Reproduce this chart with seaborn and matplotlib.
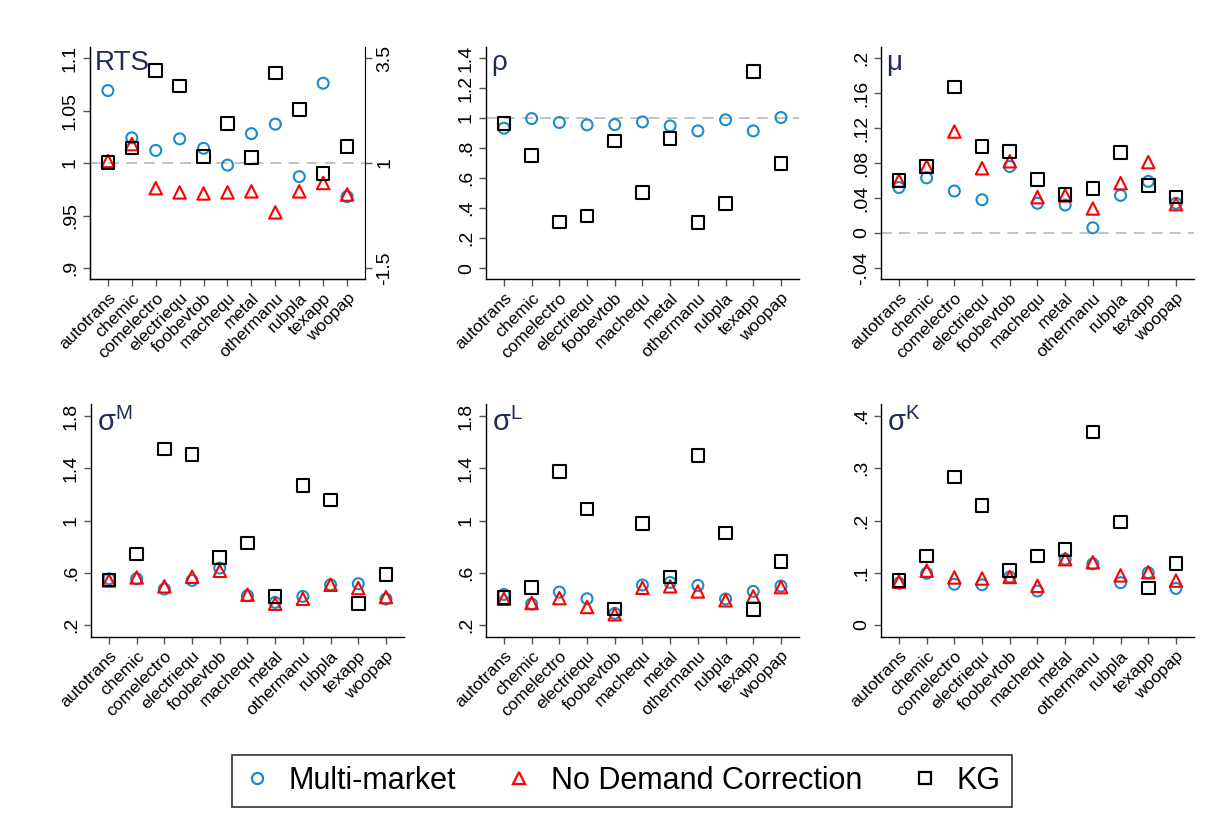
import numpy as np
import pandas as pd
import seaborn as sns
import matplotlib.pyplot as plt
from matplotlib.lines import Line2D

sns.set_style("ticks")
plt.rcParams['font.family'] = ['Liberation Sans', 'DejaVu Sans']
plt.rcParams['text.color'] = 'black'
plt.rcParams['xtick.labelcolor'] = 'black'
plt.rcParams['ytick.labelcolor'] = 'black'

industries = ['autotrans', 'chemic', 'comelectro', 'electriequ', 'foobevtob',
              'machequ', 'metal', 'othermanu', 'rubpla', 'texapp', 'woopap']

# RTS (KG on right axis scale)
rts_mm = [1.069, 1.024, 1.012, 1.023, 1.014, 0.998, 1.028, 1.037, 0.987, 1.076, 0.968]
rts_nd = [1.002, 1.018, 0.976, 0.972, 0.971, 0.972, 0.973, 0.953, 0.973, 0.981, 0.970]
rts_kg = [1.016, 1.358, 3.20, 2.83, 1.15, 1.94, 1.13, 3.14, 2.27, 0.75, 1.40]

# rho
rho_mm = [0.932, 0.996, 0.970, 0.954, 0.956, 0.974, 0.947, 0.914, 0.988, 0.914, 1.003]
rho_kg = [0.965, 0.749, 0.308, 0.348, 0.847, 0.504, 0.863, 0.305, 0.432, 1.309, 0.698]

# mu
mu_mm = [0.052, 0.063, 0.048, 0.038, 0.076, 0.034, 0.032, 0.006, 0.043, 0.059, 0.034]
mu_nd = [0.060, 0.076, 0.116, 0.074, 0.082, 0.041, 0.043, 0.028, 0.057, 0.081, 0.033]
mu_kg = [0.060, 0.076, 0.167, 0.099, 0.093, 0.061, 0.044, 0.051, 0.092, 0.054, 0.041]

# sigma M
sm_mm = [0.554, 0.554, 0.475, 0.541, 0.636, 0.424, 0.373, 0.419, 0.508, 0.516, 0.399]
sm_nd = [0.541, 0.564, 0.496, 0.569, 0.615, 0.432, 0.363, 0.401, 0.508, 0.483, 0.414]
sm_kg = [0.546, 0.745, 1.548, 1.504, 0.717, 0.827, 0.417, 1.268, 1.158, 0.366, 0.587]

# sigma L
sl_mm = [0.434, 0.361, 0.452, 0.401, 0.289, 0.506, 0.526, 0.503, 0.399, 0.457, 0.498]
sl_nd = [0.401, 0.368, 0.406, 0.338, 0.282, 0.485, 0.496, 0.457, 0.389, 0.419, 0.490]
sl_kg = [0.409, 0.485, 1.377, 1.089, 0.322, 0.975, 0.567, 1.499, 0.903, 0.317, 0.687]

# sigma K
sk_mm = [0.080, 0.099, 0.078, 0.077, 0.092, 0.065, 0.126, 0.117, 0.081, 0.100, 0.070]
sk_nd = [0.083, 0.104, 0.091, 0.089, 0.092, 0.075, 0.126, 0.120, 0.095, 0.101, 0.085]
sk_kg = [0.085, 0.132, 0.283, 0.229, 0.104, 0.132, 0.145, 0.369, 0.197, 0.071, 0.118]

series_names = ['Multi-market', 'No Demand Correction', 'KG']
blue = '#1a8cc8'
red = '#ff0000'
navy = '#1f2d56'
styles = {'Multi-market': ('o', blue, 62),
          'No Demand Correction': ('^', red, 80),
          'KG': ('s', 'black', 82)}

x = np.arange(1, len(industries) + 1)

fig = plt.figure(figsize=(12.29, 8.26), dpi=100)


def draw(ax, name, vals):
    m, c, s = styles[name]
    sns.scatterplot(x=x, y=vals, marker=m, s=s, facecolors='none',
                    edgecolor=c, linewidth=1.5, ax=ax, legend=False, zorder=3)


def style_axes(ax, ticks, labels, ylim, xlim=(0.35, 11.65)):
    ax.set_xlim(*xlim)
    ax.set_ylim(*ylim)
    ax.set_yticks(ticks)
    ax.set_yticklabels(labels, rotation=90, va='center', fontsize=14)
    ax.set_xticks(x)
    ax.set_xticklabels(industries, rotation=45, ha='right', rotation_mode='anchor', fontsize=12.5)
    ax.tick_params(axis='both', length=5, width=1, color='#555555', pad=3)
    sns.despine(ax=ax)
    for sp in ['left', 'bottom']:
        ax.spines[sp].set_color('black')
        ax.spines[sp].set_linewidth(1)
    ax.set_xlabel('')
    ax.set_ylabel('')


def label(ax, txt, fs=20):
    ax.text(0.018, 0.985, txt, transform=ax.transAxes, ha='left', va='top',
            fontsize=fs, color=navy, zorder=5)


top_y, top_h = 0.6622, 0.2809
bot_y, bot_h = 0.2288, 0.2821
col2_x, col3_x, wide_w = 0.3954, 0.7168, 0.2547

# RTS
ax1 = fig.add_axes([0.0732, top_y, 0.2238, top_h])
ax1.axhline(1, color='#bdbdbd', linestyle=(0, (6, 4)), linewidth=1.3, zorder=1)
draw(ax1, 'Multi-market', rts_mm)
draw(ax1, 'No Demand Correction', rts_nd)
style_axes(ax1, [0.9, 0.95, 1, 1.05, 1.1], ['.9', '.95', '1', '1.05', '1.1'],
           (0.8895, 1.1105), xlim=(0.25, 11.75))
ax1r = ax1.twinx()
draw(ax1r, 'KG', rts_kg)
ax1r.set_ylim(-1.7625, 3.7625)
ax1r.set_yticks([-1.5, 1, 3.5])
ax1r.set_yticklabels(['-1.5', '1', '3.5'], rotation=90, va='center', fontsize=14)
ax1r.tick_params(axis='y', length=5, width=1, color='#555555', pad=3)
ax1r.spines['top'].set_visible(False)
for sp in ['right', 'left', 'bottom']:
    ax1r.spines[sp].set_color('black')
ax1r.set_ylabel('')
ax1r.set_xlim(0.25, 11.75)
label(ax1, 'RTS')

# rho
ax2 = fig.add_axes([col2_x, top_y, wide_w, top_h])
ax2.axhline(1, color='#bdbdbd', linestyle=(0, (6, 4)), linewidth=1.3, zorder=1)
draw(ax2, 'Multi-market', rho_mm)
draw(ax2, 'KG', rho_kg)
style_axes(ax2, [0, 0.2, 0.4, 0.6, 0.8, 1, 1.2, 1.4],
           ['0', '.2', '.4', '.6', '.8', '1', '1.2', '1.4'], (-0.073, 1.473))
label(ax2, 'ρ')

# mu
ax3 = fig.add_axes([col3_x, top_y, wide_w, top_h])
ax3.axhline(0, color='#bdbdbd', linestyle=(0, (6, 4)), linewidth=1.3, zorder=1)
draw(ax3, 'Multi-market', mu_mm)
draw(ax3, 'No Demand Correction', mu_nd)
draw(ax3, 'KG', mu_kg)
style_axes(ax3, [-0.04, 0, 0.04, 0.08, 0.12, 0.16, 0.2],
           ['-.04', '0', '.04', '.08', '.12', '.16', '.2'], (-0.0526, 0.2126))
label(ax3, 'μ')

# sigma M
ax4 = fig.add_axes([0.0740, bot_y, wide_w, bot_h])
draw(ax4, 'Multi-market', sm_mm)
draw(ax4, 'No Demand Correction', sm_nd)
draw(ax4, 'KG', sm_kg)
style_axes(ax4, [0.2, 0.6, 1, 1.4, 1.8], ['.2', '.6', '1', '1.4', '1.8'], (0.108, 1.892))
label(ax4, r'$\mathregular{σ^{M}}$', fs=21)

# sigma L
ax5 = fig.add_axes([col2_x, bot_y, wide_w, bot_h])
draw(ax5, 'Multi-market', sl_mm)
draw(ax5, 'No Demand Correction', sl_nd)
draw(ax5, 'KG', sl_kg)
style_axes(ax5, [0.2, 0.6, 1, 1.4, 1.8], ['.2', '.6', '1', '1.4', '1.8'], (0.108, 1.892))
label(ax5, r'$\mathregular{σ^{L}}$', fs=21)

# sigma K
ax6 = fig.add_axes([col3_x, bot_y, wide_w, bot_h])
draw(ax6, 'Multi-market', sk_mm)
draw(ax6, 'No Demand Correction', sk_nd)
draw(ax6, 'KG', sk_kg)
style_axes(ax6, [0, 0.1, 0.2, 0.3, 0.4], ['0', '.1', '.2', '.3', '.4'], (-0.023, 0.423))
label(ax6, r'$\mathregular{σ^{K}}$', fs=21)

handles = []
for name in series_names:
    m, c, s = styles[name]
    handles.append(Line2D([], [], linestyle='none', marker=m, markersize=8,
                          markerfacecolor='none', markeredgecolor=c, markeredgewidth=1.6))
leg = fig.legend(handles, series_names, loc='center', bbox_to_anchor=(0.506, 0.0545),
                 ncol=3, fontsize=22, frameon=True, fancybox=False, edgecolor='black',
                 handlelength=0.9, handletextpad=0.6, columnspacing=1.6,
                 borderpad=0.35, borderaxespad=0)
leg.get_frame().set_linewidth(1.2)

fig.savefig('out.png', dpi=100, facecolor='white')
